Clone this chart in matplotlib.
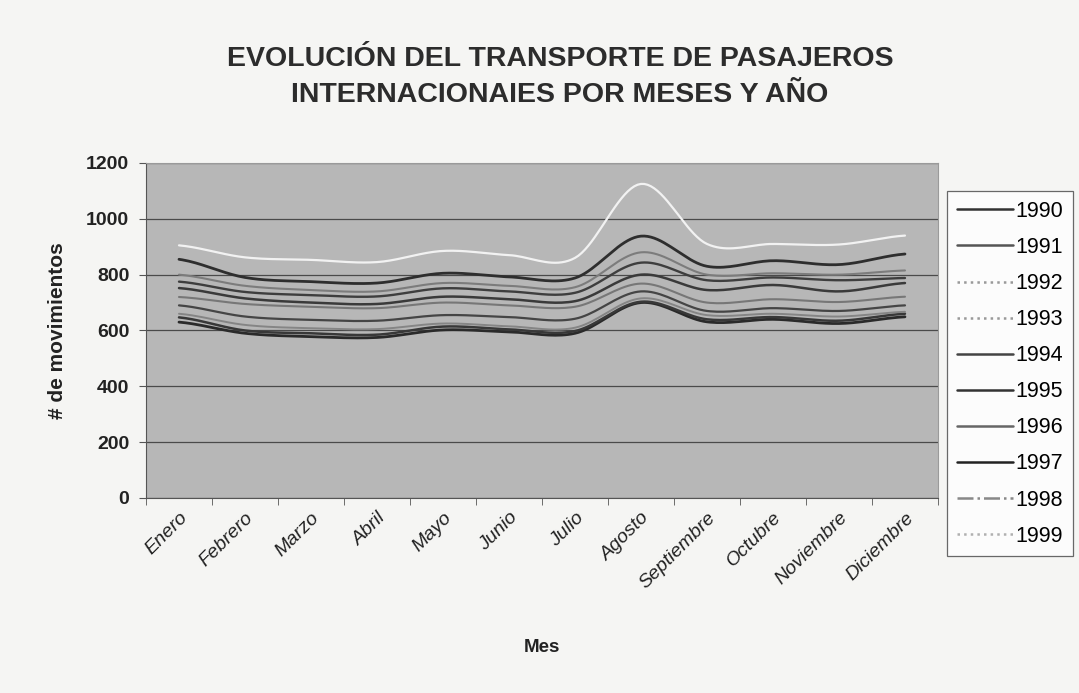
import numpy as np
import matplotlib
matplotlib.use("Agg")
from matplotlib import pyplot as plt

plt.rcParams['font.family'] = ['Liberation Sans', 'DejaVu Sans']

meses = ["Enero", "Febrero", "Marzo", "Abril", "Mayo", "Junio", "Julio",
         "Agosto", "Septiembre", "Octubre", "Noviembre", "Diciembre"]
anios = ["1990", "1991", "1992", "1993", "1994", "1995", "1996", "1997", "1998", "1999"]

# movimientos por mes
v1990 = [630, 590, 578, 575, 602, 595, 590, 700, 631, 640, 625, 649]
v1991 = [647, 600, 590, 585, 614, 604, 598, 703, 640, 648, 635, 660]
v1992 = [660, 620, 608, 605, 625, 615, 610, 715, 655, 660, 650, 667]
v1993 = [690, 650, 638, 635, 655, 648, 642, 740, 670, 680, 670, 690]
v1994 = [720, 695, 685, 680, 700, 690, 685, 768, 700, 712, 702, 721]
v1995 = [752, 715, 700, 695, 721, 712, 705, 800, 745, 763, 740, 770]
v1996 = [775, 738, 727, 722, 751, 740, 735, 843, 780, 790, 780, 788]
v1997 = [800, 760, 745, 740, 770, 760, 755, 880, 800, 805, 800, 815]
v1998 = [855, 790, 775, 770, 805, 792, 788, 938, 830, 850, 836, 874]
v1999 = [905, 862, 853, 845, 885, 870, 860, 1125, 910, 910, 908, 940]
series = [v1990, v1991, v1992, v1993, v1994, v1995, v1996, v1997, v1998, v1999]

colores = ["#2a2a2a", "#383838", "#858585", "#454545", "#777777",
           "#3a3a3a", "#3e3e3e", "#7c7c7c", "#2e2e2e", "#f2f2f2"]
anchos = [2.0, 1.8, 1.4, 1.6, 1.5, 1.8, 1.7, 1.5, 2.0, 1.6]


def suavizar(y, pasos=20):
    # curva tipo "linea suavizada" de Excel (Catmull-Rom)
    y = np.asarray(y, dtype=float)
    x = np.arange(len(y), dtype=float)
    xs, ys = [], []
    for i in range(len(y) - 1):
        y0 = y[i - 1] if i > 0 else y[i]
        y3 = y[i + 2] if i + 2 < len(y) else y[i + 1]
        t = np.linspace(0, 1, pasos, endpoint=False)
        y1, y2 = y[i], y[i + 1]
        yy = 0.5 * ((2 * y1) + (-y0 + y2) * t + (2 * y0 - 5 * y1 + 4 * y2 - y3) * t ** 2
                    + (-y0 + 3 * y1 - 3 * y2 + y3) * t ** 3)
        xs.extend(x[i] + t)
        ys.extend(yy)
    xs.append(x[-1])
    ys.append(y[-1])
    return np.array(xs), np.array(ys)


fig = plt.figure(figsize=(10.79, 6.93), dpi=100)
fig.patch.set_facecolor("#f5f5f3")
ax = fig.add_axes([0.1353, 0.2814, 0.7340, 0.4834])
ax.set_facecolor("#b7b7b7")

for vals, nombre, c, w in zip(series, anios, colores, anchos):
    xs, ys = suavizar(vals)
    ax.plot(xs, ys, color=c, lw=w, label=nombre, solid_capstyle="round")

ax.set_xlim(-0.5, 11.5)
ax.set_ylim(0, 1200)
ax.set_yticks(range(0, 1201, 200))
ax.yaxis.grid(True, color="#4a4a4a", lw=0.9)
ax.set_axisbelow(True)

ax.set_xticks(range(12))
ax.set_xticklabels(meses, rotation=45, ha="right", rotation_mode="anchor",
                   fontsize=14, style="italic", color="#222222")
ax.set_xticks(np.arange(-0.5, 12, 1), minor=True)
ax.tick_params(axis="x", which="major", length=0, pad=8)
ax.tick_params(axis="x", which="minor", length=5, color="#555555")
ax.tick_params(axis="y", length=5, color="#555555", labelsize=14, pad=7)
for t in ax.get_yticklabels():
    t.set_fontweight("bold")
    t.set_color("#222222")

for s in ["top", "right"]:
    ax.spines[s].set_color("#9a9a9a")
for s in ["left", "bottom"]:
    ax.spines[s].set_color("#555555")

ax.set_ylabel("# de movimientos", fontsize=15, fontweight="bold", labelpad=14,
              color="#222222")
ax.set_xlabel("Mes", fontsize=13.5, fontweight="bold", labelpad=34, color="#222222")

fig.text(0.519, 0.889, "EVOLUCIÓN DEL TRANSPORTE DE PASAJEROS\nINTERNACIONAIES POR MESES Y AÑO",
         ha="center", va="center", fontsize=20.5, fontweight="bold", color="#2c2c2c",
         linespacing=1.5)

leg = ax.legend(loc="upper left", bbox_to_anchor=(0.878, 0.724),
                bbox_transform=fig.transFigure, fontsize=15.5, frameon=True,
                handlelength=2.6, labelspacing=0.7, handletextpad=0.1,
                borderpad=0.45, borderaxespad=0, fancybox=False)
leg.get_frame().set_edgecolor("#444444")
leg.get_frame().set_facecolor("#ffffff")
leg.get_frame().set_linewidth(0.9)
for h in leg.get_lines():
    h.set_linewidth(1.8)
estilos = ["-", "-", ":", ":", "-", "-", "-", "-", "-.", ":"]
grises = ["#333333", "#555555", "#999999", "#999999", "#444444",
          "#333333", "#666666", "#222222", "#888888", "#b0b0b0"]
for h, ls, g in zip(leg.get_lines(), estilos, grises):
    h.set_linestyle(ls)
    h.set_color(g)

fig.savefig("out.png", dpi=100, facecolor=fig.get_facecolor())
